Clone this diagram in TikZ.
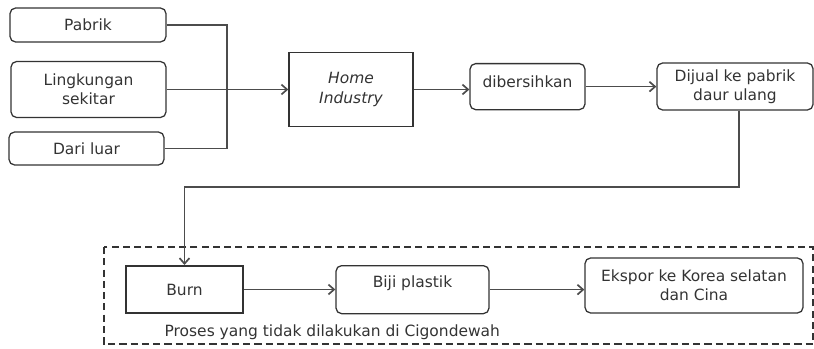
\documentclass[tikz,border=0pt]{standalone}
\usepackage{fontspec}
\usetikzlibrary{arrows.meta}
\setmainfont{DejaVu Sans}

\begin{document}
\begin{tikzpicture}[x=0.025cm,y=-0.025cm,
	kotak/.style={draw=black!80,line width=0.9pt,rounded corners=4pt,align=center,text=black!80,inner sep=0pt,font=\fontsize{11}{13.8}\selectfont},
	tajam/.style={kotak,rounded corners=0pt},
	garis/.style={draw=black!70,line width=1.2pt},
	panah/.style={garis,-{Straight Barb[length=4pt,width=7pt,line width=1.2pt]}}]
	\useasboundingbox (0,0) rectangle (814,348);
	% sumber
	\node[kotak,minimum width=3.9cm,minimum height=0.85cm] (pabrik) at (88,25) {Pabrik};
	\node[kotak,minimum width=3.875cm,minimum height=1.4cm] (lingkungan) at (88.5,89.5) {Lingkungan\\sekitar};
	\node[kotak,minimum width=3.875cm,minimum height=0.825cm] (dariluar) at (86.5,148.5) {Dari luar};
	\coordinate (gabung) at (227,89.5);
	% alur utama
	\node[tajam,minimum width=3.1cm,minimum height=1.85cm,font=\fontsize{11}{13.8}\selectfont\itshape] (home) at (351,89.5) {Home\\Industry};
	\node[kotak,anchor=north,minimum width=2.875cm,text height=0.6cm,text depth=0.55cm] (bersih) at (527.5,63) {dibersihkan};
	\node[kotak,minimum width=3.9cm,minimum height=1.175cm] (dijual) at (735,86.5) {Dijual ke pabrik\\daur ulang};
	\coordinate (belok) at (739,187);
	% proses di luar
	\draw[draw=black!80,line width=0.9pt,dash pattern=on 5pt off 3pt] (104,247) rectangle (813,344);
	\node[tajam,line width=1.4pt,minimum width=2.925cm,minimum height=1.175cm] (burn) at (184.5,289.5) {Burn};
	\node[kotak,anchor=north,minimum width=3.825cm,text height=0.55cm,text depth=0.65cm] (biji) at (412.5,265) {Biji plastik};
	\node[kotak,minimum width=5.45cm,minimum height=1.375cm] (ekspor) at (694,285.5) {Ekspor ke Korea selatan\\dan Cina};
	\node[kotak,draw=none,anchor=west] (proses) at (164,332) {Proses yang tidak dilakukan di Cigondewah};

	\draw[garis] (pabrik.east) -| (gabung) |- (dariluar.east);
	\draw[panah] (lingkungan.east) -- (home.west);
	\draw[panah] (home.east) -- (home.east -| bersih.west);
	\draw[panah] (bersih.east) -- (bersih.east -| dijual.west);
	\draw[panah] (belok |- dijual.south) -- (belok) -| (burn.north);
	\draw[panah] (burn.east) -- (burn.east -| biji.west);
	\draw[panah] (biji.east) -- (biji.east -| ekspor.west);
\end{tikzpicture}
\end{document}
